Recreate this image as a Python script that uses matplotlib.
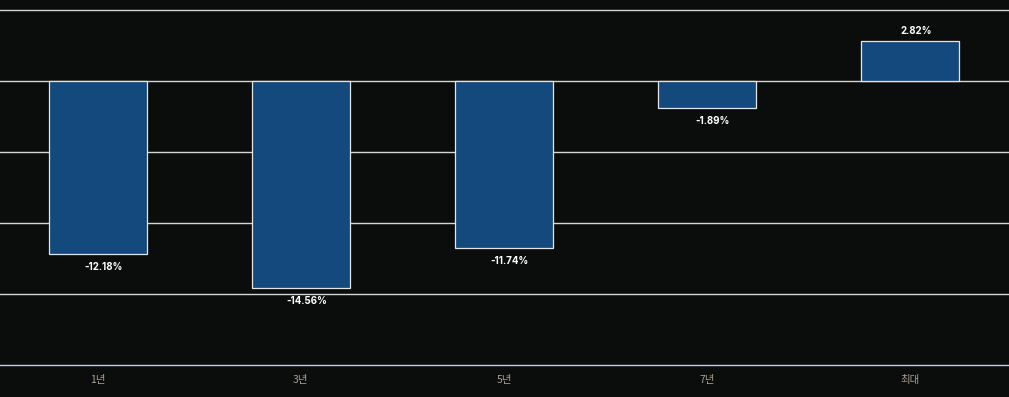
import matplotlib
matplotlib.use("Agg")
import matplotlib.pyplot as plt

categories = ["1년", "3년", "5년", "7년", "최대"]
values = [-12.18, -14.56, -11.74, -1.89, 2.82]
grid_levels = [5, 0, -5, -10, -15, -20]

bg = "#0b0c0c"
bar_color = "#13497d"

fig = plt.figure(figsize=(10.09, 3.97), dpi=100, facecolor=bg)
# axes from y pixel 10 (5%) to 365 (-20%)
ax = fig.add_axes([0, 32 / 397, 1, 355 / 397])
ax.set_facecolor(bg)
ax.set_xlim(-0.481, 4.486)
ax.set_ylim(-20, 5)

for g in grid_levels:
    col = "#c7cfdc" if g == -20 else "#d6d6d6"
    ax.axhline(g, color=col, lw=1, zorder=1, clip_on=False)

x = range(len(categories))
ax.bar(x, values, width=0.483, color=bar_color, edgecolor="#e6e6e6", linewidth=0.9, zorder=2)

# value labels sit a little right of the bar centre in the original
for i, v in zip(x, values):
    off = -9.5 if v < 0 else 7
    ax.annotate(f"{v:.2f}%", (i, v), xytext=(4, off), textcoords="offset points",
                ha="center", va="center", color="white", fontsize=7,
                fontweight="bold", family="Inter")

ax.set_xticks(list(x))
ax.set_xticklabels(categories, family=["Noto Sans CJK KR", "DejaVu Sans"], fontsize=7.5, color="#aaa293")
ax.tick_params(axis="x", length=0, pad=7.5)
ax.set_yticks([])
for s in ax.spines.values():
    s.set_visible(False)

fig.savefig("out.png", dpi=100, facecolor=bg)
